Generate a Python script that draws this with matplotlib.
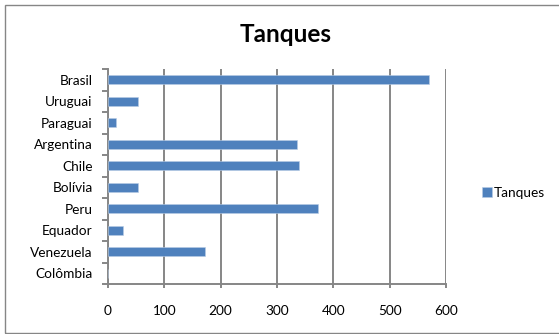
import matplotlib
matplotlib.use("Agg")
import matplotlib.pyplot as plt
from matplotlib.patches import Rectangle
import numpy as np

plt.rcParams['font.family'] = ['Lato', 'DejaVu Sans']

categories = ["Brasil", "Uruguai", "Paraguai", "Argentina", "Chile",
              "Bolívia", "Peru", "Equador", "Venezuela", "Colômbia"]
tanques = [570, 54, 14, 335, 339, 54, 372, 26, 172, 0]
series_name = "Tanques"
xticks = [0, 100, 200, 300, 400, 500, 600]

W, H = 559, 334
fig = plt.figure(figsize=(W / 100, H / 100), dpi=100)

# outer chart border
fig.patches.append(Rectangle((5 / W, 1 - 333 / H), 560 / W, 328 / H,
                             transform=fig.transFigure, fill=False,
                             edgecolor="#868686", linewidth=1.0))

ax = fig.add_axes([108 / W, 1 - 284 / H, 338 / W, 215 / H])
y = np.arange(len(categories))
ax.barh(y, tanques, height=0.4, color="#4F81BD", edgecolor="#B9CDE5",
        linewidth=0.4, label=series_name, zorder=3)

ax.set_xlim(0, 600)
ax.set_ylim(len(categories) - 0.5, -0.5)
ax.set_xticks(xticks)
ax.set_xticklabels([str(v) for v in xticks])
ax.set_yticks(y)
ax.set_yticklabels(categories)
ax.set_yticks(np.arange(len(categories) + 1) - 0.5, minor=True)

ax.grid(axis="x", color="#868686", linewidth=1.4, zorder=0)
ax.set_axisbelow(True)
for s in ["top", "right"]:
    ax.spines[s].set_visible(False)
for s in ["left", "bottom"]:
    ax.spines[s].set_color("#868686")
    ax.spines[s].set_linewidth(1.4)

ax.tick_params(axis="y", which="major", length=0, pad=11, labelsize=9.8)
ax.tick_params(axis="y", which="minor", length=4.3, width=1.4, color="#868686")
ax.tick_params(axis="x", which="major", length=3, width=1.4, color="#868686",
               pad=12, labelsize=9.8)

fig.text(286 / W, 1 - 35 / H, "Tanques", ha="center", va="center",
         fontsize=17.5, fontweight="bold")

leg = fig.legend(handles=ax.get_legend_handles_labels()[0],
                 labels=[series_name], loc="center left",
                 bbox_to_anchor=(482 / W, 1 - 193 / H), frameon=False,
                 fontsize=9.8, handlelength=0.7, handleheight=0.7,
                 handletextpad=0.2, borderaxespad=0, borderpad=0)

fig.savefig("out.png", dpi=100)
